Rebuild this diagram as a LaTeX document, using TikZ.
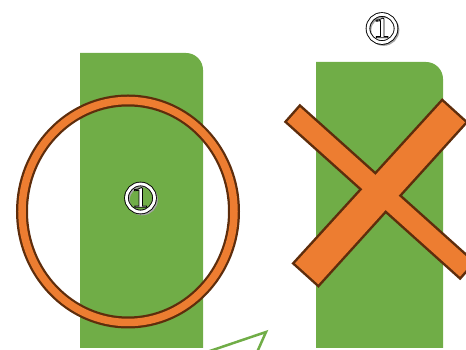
\documentclass[tikz,border=0pt]{standalone}
\usepackage{tikz}
\definecolor{leaf}{HTML}{70AD47}
\definecolor{orng}{HTML}{ED7D31}
\definecolor{brwn}{HTML}{5E2D0C}
\tikzset{
  greenbox/.style={fill=leaf},
  barout/.style={draw=brwn, line width=5pt, line join=miter},
  barfill/.style={fill=orng},
  pointer/.style={draw=leaf, line width=2.5pt, line join=miter},
  digit/.style={white, font=\fontsize{30}{30}\selectfont\bfseries, inner sep=0pt},
}
\newcommand{\outlined}[1]{\special{pdf:code q 2 Tr 0 0 0 RG 0.8 w}#1\special{pdf:code Q}}
\newcommand{\circnum}[2]{%
  \coordinate (#2) at #1;
  \draw[gray!70, line width=3.5pt] ([shift={(1.6,-1.6)}]#2) circle (14);
  \draw[black, line width=4.6pt] (#2) circle (14);
  \draw[white, line width=2.8pt] (#2) circle (14);
  \node[digit] (#2-digit) at ([shift={(0,0.6)}]#2) {\outlined{1}};
}
\begin{document}
\begin{tikzpicture}[x=1pt,y=1pt]
\useasboundingbox (0,0) rectangle (466,350);
\clip (0,0) rectangle (466,350);
% left green box
\fill[greenbox] (80,2) -- (80,297) -- (186,297) arc[start angle=90,end angle=0,radius=17] -- (203,2) -- cycle;
% right green box
\fill[greenbox] (316,2) -- (316,288) -- (426,288) arc[start angle=90,end angle=0,radius=17] -- (443,2) -- cycle;
% ring
\coordinate (ringc) at (128,138.5);
\draw[brwn, line width=12pt] (ringc) ellipse [x radius=106, y radius=111];
\draw[orng, line width=7.5pt] (ringc) ellipse [x radius=106, y radius=111];
% cross
\coordinate (A) at (287.3,228.3);
\coordinate (B) at (300,242.7);
\coordinate (C) at (472.7,87.7);
\coordinate (D) at (460,73.3);
\coordinate (E) at (295,86.7);
\coordinate (F) at (318.3,65.7);
\coordinate (G) at (465,227.7);
\coordinate (H) at (442.3,248.3);
\path[barout] (A) -- (B) -- (C) -- (D) -- cycle;
\path[barout] (E) -- (F) -- (G) -- (H) -- cycle;
\path[barfill] (A) -- (B) -- (C) -- (D) -- cycle;
\path[barfill] (E) -- (F) -- (G) -- (H) -- cycle;
% pointer
\coordinate (p1) at (204,-3);
\coordinate (p2) at (266,18);
\coordinate (p3) at (256.7,-3);
\draw[pointer] (p1) -- (p2) -- (p3);
% circled numbers
\circnum{(140.5,152)}{numA}
\circnum{(382,321.5)}{numB}
\end{tikzpicture}
\end{document}
